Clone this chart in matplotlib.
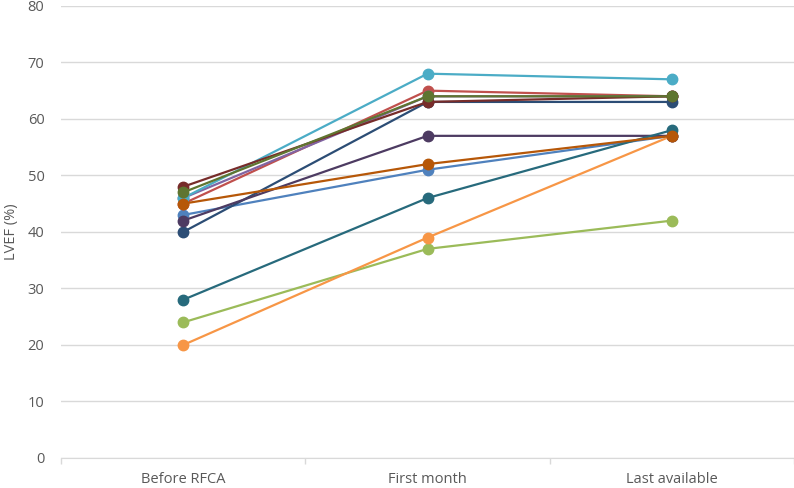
import numpy as np
import matplotlib.pyplot as plt

# categorias y valores de LVEF por paciente
categories = ['Before RFCA', 'First month', 'Last available']
blue = [43, 51, 57]
red = [45, 65, 64]
green = [24, 37, 42]
purple = [46, 64, 64]
aqua = [46, 68, 67]
orange = [20, 39, 57]
navy = [40, 63, 63]
maroon = [48, 63, 64]
olive = [47, 64, 64]
dark_purple = [42, 57, 57]
teal = [28, 46, 58]
dark_orange = [45, 52, 57]

series = [blue, red, green, purple, aqua, orange,
          navy, maroon, olive, dark_purple, teal, dark_orange]
colors = ['#4F81BD', '#C0504D', '#9BBB59', '#8064A2', '#4BACC6', '#F79646',
          '#2C4D75', '#772C2A', '#5F7530', '#4D3B62', '#276A7C', '#B65708']

plt.rcParams['font.family'] = ['Open Sans', 'DejaVu Sans']

fig = plt.figure(figsize=(7.94, 4.88), dpi=100)
ax = fig.add_axes([0.077, 0.0615, 0.923, 0.9265])

x = np.arange(len(categories))
for vals, c in zip(series, colors):
    ax.plot(x, vals, color=c, lw=1.6, marker='o', ms=7.5, mec=c, mfc=c)

ax.set_xlim(-0.5, 2.5)
ax.set_ylim(0, 80)
ax.set_yticks(range(0, 81, 10))
ax.set_xticks(x)
ax.set_xticklabels(categories)
ax.set_xticks([-0.5, 0.5, 1.5, 2.5], minor=True)
ax.tick_params(axis='x', which='major', length=0, pad=10, labelsize=10.5, colors='#595959')
ax.tick_params(axis='x', which='minor', length=4, color='#D9D9D9', width=1)
ax.tick_params(axis='y', length=0, pad=12, labelsize=10.5, colors='#595959')
ax.grid(axis='y', color='#D9D9D9', lw=1)
ax.set_axisbelow(True)
for s in ['top', 'right', 'left']:
    ax.spines[s].set_visible(False)
ax.spines['bottom'].set_color('#D9D9D9')
ax.set_ylabel('LVEF (%)', fontsize=10.5, color='#595959', labelpad=6)

fig.savefig('out.png', dpi=100)
